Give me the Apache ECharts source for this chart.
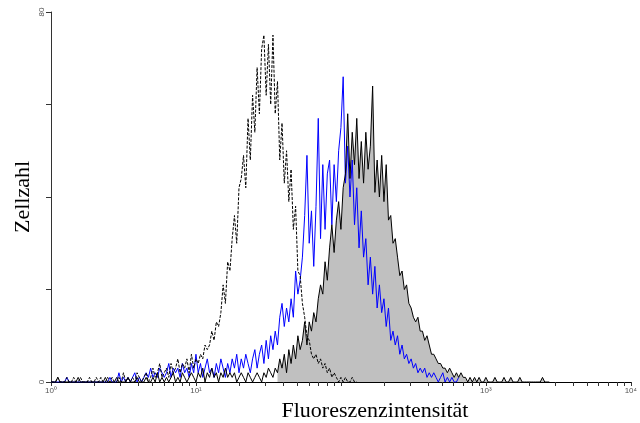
<!DOCTYPE html>
<html>
<head>
<meta charset="utf-8">
<script src="https://cdn.jsdelivr.net/npm/echarts@6/dist/echarts.min.js"></script>
<style>
html,body{margin:0;padding:0;background:#fff;}
#chart{width:640px;height:423px;}
</style>
</head>
<body>
<div id="chart"></div>
<script>
let myChart = echarts.init(document.getElementById('chart'));

// histogram channels, 64 per decade, channel i sits at 10^(i/64)
let channelsPerDecade = 64;

// isotype control (dashed black)
let isotype = [
    0,0,0,1,0,0,0,1,0,0,1,0,0,1,0,0,0,1,0,0,1,
    0,1,0,0,1,0,1,0,0,1,0,2,0,1,0,1,0,2,1,0,
    1,2,0,1,3,1,2,4,1,2,3,1,4,2,3,
    5,2,4,3,5,2,6,3,5,
    4,6,5,8,7,
    8,11,9,13,12,
    15,21,17,26,24,31,36,30,42,44,
    49,42,57,48,62,54,68,58,72,75,62,73,60,75,58,
    65,48,56,43,50,39,46,33,38,24,23,17,14,10,9,6,5,6,4,5,3,4,2,3,1,2,1,
    0,1,0,1,0,0,1,0,0
];

// stained sample (blue)
let stained = [
    0,0,0,0,0,0,0,1,0,0,0,0,0,0,0,0,0,0,0,0,0,
    0,0,0,0,0,1,0,0,0,2,0,1,0,1,0,1,2,0,1,0,
    1,2,1,3,1,2,1,3,2,1,2,4,1,3,2,
    3,1,4,2,3,1,4,2,6,
    2,4,1,3,5,2,3,1,4,2,5,3,1,4,2,5,
    3,6,2,5,3,6,4,2,5,7,
    3,6,8,4,9,5,
    10,7,11,8,
    14,17,12,16,13,
    18,14,24,19,22,
    27,36,49,30,37,25,38,57,31,47,33,45,48,34,47,39,50,55,66,43,
    51,40,48,34,42,29,37,27,31,21,27,19,25,16,21,15,18,12,16,9,
    11,8,10,6,8,5,6,4,5,3,4,2,3,2,3,1,2,1,2,1,
    0,1,2,0,1,0,1,0,0,1
];

// reference sample (black line, grey fill)
let sample = [
    0,0,0,1,0,0,0,0,0,0,0,0,1,0,0,0,0,0,0,0,0,
    0,0,0,1,0,0,0,0,1,0,0,0,0,1,0,0,0,1,0,0,
    0,1,0,0,1,0,2,0,1,0,1,0,1,2,0,
    1,0,2,1,0,1,2,1,0,
    2,1,3,0,2,1,3,1,2,0,2,1,3,1,2,1,
    2,0,1,2,1,0,2,1,0,1,
    2,1,0,2,1,3,2,1,3,2,
    5,3,6,2,7,4,8,5,10,7,
    9,13,8,13,11,15,13,18,21,19,
    26,22,29,34,28,35,39,33,42,45,
    58,44,54,47,57,44,52,43,54,46,
    51,64,41,48,40,49,39,47,35,36,
    30,31,27,23,24,20,21,17,16,14,
    13,14,11,11,9,10,8,6,6,5,
    4,4,3,3,2,3,2,1,2,1,
    2,1,1,0,1,0,1,0,1,0,
    0,1,0,0,0,1,0,0,0,1,
    0,0,1,0,0,0,1,0,0,0,0,0,0,0,0,0,1,0,0,0
];
let fillStart = 100;

let decadeLabels = {1:'10⁰', 10:'10¹', 100:'', 1000:'10³', 10000:'10⁴'};
let yLabels = [0, 80];

let toPoints = function(arr, from){
    let pts = [];
    for (let i = from; i < arr.length; i++) {
        pts.push([Math.pow(10, i / channelsPerDecade), arr[i]]);
    }
    return pts;
};

let minorTicks = [];
for (let e = 0; e < 4; e++) {
    for (let m = 1; m < 10; m++) {
        minorTicks.push(m * Math.pow(10, e));
    }
}
minorTicks.push(10000);

let option = {
    animation: false,
    backgroundColor: '#fff',
    title: {
        text: 'Fluoreszenzintensität',
        left: 370,
        top: 395,
        textAlign: 'center',
        textStyle: {fontFamily: 'Liberation Serif', fontSize: 22, fontWeight: 'normal', color: '#000'}
    },
    grid: {left: 51, right: 2, top: 12, bottom: 41},
    xAxis: {
        type: 'log',
        logBase: 10,
        min: 1,
        max: 10000,
        axisLine: {lineStyle: {color: '#000', width: 1}},
        axisTick: {show: true, length: 4, customValues: minorTicks, lineStyle: {color: '#333'}},
        minorTick: {show: false},
        splitLine: {show: false},
        axisLabel: {
            customValues: [1, 10, 100, 1000, 10000],
            margin: 5,
            fontSize: 8,
            color: '#555',
            fontFamily: 'Liberation Sans',
            formatter: function(v){ return decadeLabels[Math.round(v)] || ''; }
        }
    },
    yAxis: {
        type: 'value',
        min: 0,
        max: 80,
        interval: 20,
        name: 'Zellzahl',
        nameLocation: 'middle',
        nameRotate: 90,
        nameGap: 17,
        nameMoveOverlap: false,
        nameTextStyle: {fontFamily: 'Liberation Serif', fontSize: 22, color: '#000'},
        axisLine: {show: true, lineStyle: {color: '#333', width: 1}},
        axisTick: {show: true, length: 5, lineStyle: {color: '#333'}},
        splitLine: {show: false},
        axisLabel: {
            rotate: 90,
            margin: 5,
            fontSize: 8,
            color: '#555',
            fontFamily: 'Liberation Sans',
            formatter: function(v){ return yLabels.indexOf(v) >= 0 ? String(v) : ''; }
        }
    },
    series: [
        {
            name: 'fill',
            type: 'line',
            data: toPoints(sample, fillStart),
            symbol: 'none',
            lineStyle: {width: 0},
            areaStyle: {color: '#c0c0c0', opacity: 1},
            z: 1
        },
        {
            name: 'stained',
            type: 'line',
            data: toPoints(stained, 0),
            symbol: 'none',
            lineStyle: {color: '#0000ff', width: 1},
            z: 2
        },
        {
            name: 'sample',
            type: 'line',
            data: toPoints(sample, 0),
            symbol: 'none',
            lineStyle: {color: '#000', width: 1},
            z: 3
        },
        {
            name: 'isotype',
            type: 'line',
            data: toPoints(isotype, 0),
            symbol: 'none',
            lineStyle: {color: '#000', width: 1, type: [3, 1.5]},
            z: 4
        }
    ]
};
myChart.setOption(option);
</script>
</body>
</html>
